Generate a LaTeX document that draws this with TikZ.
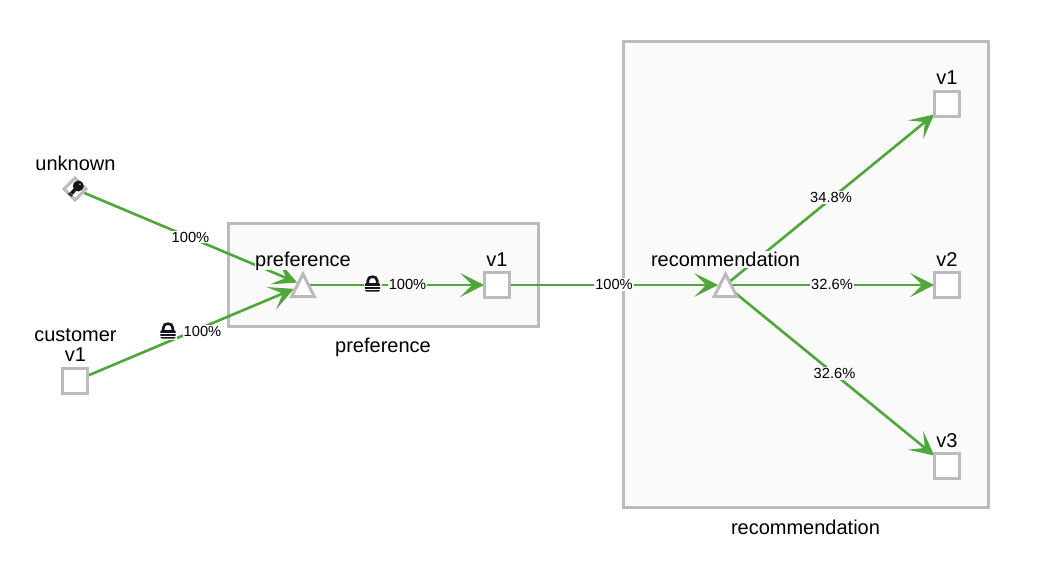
\documentclass[tikz,border=0pt]{standalone}
\usepackage{fontspec}
\setmainfont{Liberation Sans}
\usetikzlibrary{shapes.geometric,arrows.meta,calc}
\definecolor{edgegreen}{HTML}{4FA63A}
\definecolor{bordergray}{HTML}{BBBBBB}
\definecolor{boxfill}{HTML}{FAFAFA}
\definecolor{icondark}{HTML}{16161F}
\pgfdeclarelayer{boxes}
\pgfdeclarelayer{edges}
\pgfsetlayers{boxes,edges,main}
\tikzset{
  groupbox/.style={draw=bordergray,line width=2.25pt,fill=boxfill},
  svcbox/.style={rectangle,draw=bordergray,line width=2.25pt,fill=white,minimum size=18.2pt,inner sep=0pt,outer sep=0.5pt},
  svctri/.style={isosceles triangle,isosceles triangle stretches,shape border rotate=90,draw=bordergray,line width=2.25pt,fill=white,minimum width=17pt,minimum height=16.9pt,inner sep=0pt,anchor=lower side},
  svcdiamond/.style={diamond,draw=bordergray,line width=2.25pt,fill=white,minimum size=17pt,inner sep=0pt,outer sep=0.5pt},
  nametext/.style={font=\fontsize{15}{17}\selectfont,inner sep=0.6pt},
  edgetext/.style={font=\fontsize{11}{12}\selectfont,inner sep=0.8pt},
  flow/.style={draw=edgegreen,line width=1.95pt,-{Stealth[length=18pt,width=18pt,inset=9pt,color=edgegreen]}},
  lockicon/.pic={
    \fill[white] (-9,-10) rectangle (9,9);
    \draw[icondark,line width=2pt] (-4.8,0) -- (-4.8,-3) .. controls (-4.8,-8.8) and (4.8,-8.8) .. (4.8,-3) -- (4.8,0);
    \fill[icondark,rounded corners=1pt] (-7.6,-1) rectangle (7.6,7.6);
    \fill[white] (-7.6,2) rectangle (7.6,3.1);
    \fill[white] (-7.6,5) rectangle (7.6,5.8);
  },
  keyicon/.pic={
    \fill[icondark,even odd rule] (2.8,-3) circle[radius=5.5] (4.5,-4.7) circle[radius=1.1];
    \draw[icondark,line width=2.7pt] (1,-1) -- (-4.2,4.6);
    \fill[icondark] (-6.6,3.4) -- (-2.6,6.8) -- (-4.2,7.6) -- (-7.4,5) -- cycle;
  },
}
\begin{document}
\begin{tikzpicture}[x=0.75pt,y=-0.75pt]
\path[use as bounding box] (0,0) rectangle (1045,565);

\begin{pgfonlayer}{boxes}
\draw[groupbox] (228,223) rectangle (538,326);
\draw[groupbox] (623,41) rectangle (988,507);
\end{pgfonlayer}

\node[svcdiamond] (unknown) at (75,189) {};
\node[svcbox] (customer) at (75,381) {};
\node[svctri] (preftri) at (303,298) {};
\node[svcbox] (prefv) at (497,285) {};
\node[svctri] (rectri) at (725.5,298) {};
\node[svcbox] (recvone) at (947,104) {};
\node[svcbox] (recvtwo) at (947,285) {};
\node[svcbox] (recvthree) at (947,466) {};

\path (preftri.lower side) ++(0,-13) coordinate (prefc);
\path (rectri.lower side) ++(0,-13) coordinate (recc);

\begin{pgfonlayer}{edges}
\draw[flow,shorten >=4.8pt] (unknown) -- (prefc);
\draw[flow,shorten >=7.5pt] (customer) -- (prefc);
\draw[flow] (prefc) -- (prefv);
\draw[flow,shorten >=5.5pt] (prefv) -- (recc);
\draw[flow] (recc) -- (recvone);
\draw[flow] (recc) -- (recvtwo);
\draw[flow] (recc) -- (recvthree);
\end{pgfonlayer}

\node[nametext] (lunknown) at (75.5,163) {unknown};
\node[nametext] (lcustomer) at (75.5,335) {customer};
\node[nametext] (lcustv) at (75.5,355) {v1};
\node[nametext,fill=boxfill,inner sep=0pt] (lpref) at (303,261) {preference};
\node[nametext,fill=boxfill] (lprefv) at (497,259.5) {v1};
\node[nametext] (lprefbox) at (383,347) {preference};
\node[nametext,fill=boxfill] (lrec) at (725.5,259.5) {recommendation};
\node[nametext] (lrecv1) at (947,78) {v1};
\node[nametext] (lrecv2) at (947,259.5) {v2};
\node[nametext] (lrecv3) at (947,441) {v3};
\node[nametext] (lrecbox) at (805.5,527) {recommendation};

\node[edgetext,fill=white] (e1) at (190.5,237) {100\%};
\node[edgetext,fill=white] (e2) at (202.5,331) {100\%};
\node[edgetext,fill=boxfill] (e3) at (407.5,284.5) {100\%};
\node[edgetext,fill=white] (e4) at (614,284.5) {100\%};
\node[edgetext,fill=boxfill] (e5) at (831,197.5) {34.8\%};
\node[edgetext,fill=boxfill] (e6) at (832,284.5) {32.6\%};
\node[edgetext,fill=boxfill] (e7) at (834.5,373.5) {32.6\%};

\pic at (168,331) {lockicon};
\pic at (372.5,284) {lockicon};
\pic at (75.5,189) {keyicon};
\end{tikzpicture}
\end{document}
